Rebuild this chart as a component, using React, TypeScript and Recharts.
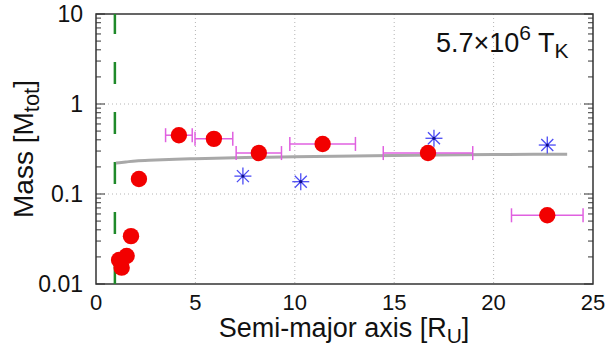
import React from 'react';
import {
  ComposedChart,
  Scatter,
  Line,
  XAxis,
  YAxis,
  CartesianGrid,
  ReferenceLine,
  ReferenceArea,
  ErrorBar,
} from 'recharts';

// Satellites formed in the disk (red dots), x range = orbit spread
const diskA = [4.17, 5.93, 8.19, 11.4, 16.7, 22.7, 2.16, 1.76, 1.54, 1.16, 1.29];
const diskMass = [0.45, 0.41, 0.285, 0.36, 0.285, 0.058, 0.147, 0.034, 0.0205, 0.0185, 0.0152];
const diskSpread = [0.67, 0.95, 1.14, 1.65, 2.25, 1.8, 0, 0, 0, 0, 0];

// Observed satellites (blue stars)
const obsA = [7.39, 10.3, 17.0, 22.7];
const obsMass = [0.158, 0.137, 0.416, 0.35];

// Gray model curve
const curveA = [1, 1.5, 2, 3, 4, 5, 7, 10, 13, 16, 20, 23.7];
const curveMass = [0.221, 0.227, 0.233, 0.238, 0.243, 0.247, 0.253, 0.26, 0.265, 0.27, 0.274, 0.277];

// Roche limit (green dashed)
const rocheA = 0.95;

const xTicks = [0, 5, 10, 15, 20, 25];
const yMajor = [0.01, 0.1, 1, 10];
const yMajorLabels = ['0.01', '0.1', '1', '10'];
const yMinor = [
  0.02, 0.03, 0.04, 0.05, 0.06, 0.07, 0.08, 0.09,
  0.2, 0.3, 0.4, 0.5, 0.6, 0.7, 0.8, 0.9,
  2, 3, 4, 5, 6, 7, 8, 9,
];

const FONT = "'Liberation Sans', Arial, Helvetica, sans-serif";
const PLOT_L = 96;
const PLOT_R = 593;
const FRAME = '#333';

const diskData = diskA.map((a, i) => ({ a, m: diskMass[i], err: diskSpread[i] }));
const obsData = obsA.map((a, i) => ({ a, m: obsMass[i] }));
const curveData = curveA.map((a, i) => ({ a, m: curveMass[i] }));

const MassTick = (props: any) => {
  const { y, payload } = props;
  const idx = yMajor.findIndex((v) => Math.abs(v - payload.value) < v * 1e-6);
  const len = idx >= 0 ? 9 : 5;
  return (
    <g>
      <line x1={PLOT_L} x2={PLOT_L + len} y1={y} y2={y} stroke={FRAME} strokeWidth={1} />
      <line x1={PLOT_R} x2={PLOT_R - len} y1={y} y2={y} stroke={FRAME} strokeWidth={1} />
      {idx >= 0 && (
        <text x={83} y={y + 8} textAnchor="end" fontSize={23} fill="#111" fontFamily={FONT}>
          {yMajorLabels[idx]}
        </text>
      )}
    </g>
  );
};

const RedDot = (p: any) => <circle cx={p.cx} cy={p.cy} r={8.2} fill="#f20000" />;

const BlueStar = (p: any) => {
  const { cx, cy } = p;
  const r = 8.5;
  const d = r * 0.707;
  return (
    <g stroke="#4b4bf5" strokeWidth={1.3}>
      <line x1={cx - r} y1={cy} x2={cx + r} y2={cy} />
      <line x1={cx} y1={cy - r} x2={cx} y2={cy + r} />
      <line x1={cx - d} y1={cy - d} x2={cx + d} y2={cy + d} />
      <line x1={cx - d} y1={cy + d} x2={cx + d} y2={cy - d} />
      <circle cx={cx} cy={cy} r={1.6} fill="#10108a" stroke="none" />
    </g>
  );
};

export default function App() {
  return (
    <div style={{ position: 'absolute', left: 0, top: 0, width: 613, height: 350, background: '#fff' }}>
      <ComposedChart width={613} height={350} margin={{ top: 14, right: 20, bottom: 0, left: 0 }}>
        <CartesianGrid
          horizontalValues={[0.1, 1]}
          verticalValues={[5, 10, 15, 20]}
          stroke="#b4b4b4"
          strokeDasharray="1 3"
        />
        <XAxis
          type="number"
          dataKey="a"
          domain={[0, 25]}
          ticks={xTicks}
          interval={0}
          allowDataOverflow
          height={66}
          tickLine={false}
          axisLine={false}
          tickSize={0}
          tickMargin={10}
          tick={{ fontSize: 22, fill: '#111', fontFamily: FONT }}
          label={{
            content: () => (
              <text x={344} y={337} textAnchor="middle" fontSize={27} fill="#111" fontFamily={FONT}>
                Semi-major axis [R
                <tspan dy={6} fontSize={21}>U</tspan>
                <tspan dy={-6}>]</tspan>
              </text>
            ),
          }}
        />
        <YAxis
          type="number"
          dataKey="m"
          scale="log"
          domain={[0.01, 10]}
          ticks={[...yMajor, ...yMinor]}
          interval={0}
          allowDataOverflow
          width={96}
          tickLine={false}
          axisLine={false}
          tick={<MassTick />}
          label={{
            content: () => (
              <text
                x={33}
                y={149}
                transform="rotate(-90, 33, 149)"
                textAnchor="middle"
                fontSize={28}
                fill="#111"
                fontFamily={FONT}
              >
                Mass [M
                <tspan dy={6} fontSize={22}>tot</tspan>
                <tspan dy={-6}>]</tspan>
              </text>
            ),
          }}
        />
        <ReferenceLine
          x={rocheA}
          stroke="#1f8a2a"
          strokeWidth={2.5}
          strokeDasharray="22 28"
        />
        <Line
          data={curveData}
          dataKey="m"
          type="monotone"
          stroke="#a8a8a8"
          strokeWidth={3}
          dot={false}
          isAnimationActive={false}
        />
        <Scatter data={diskData} dataKey="m" shape={RedDot} isAnimationActive={false}>
          <ErrorBar dataKey="err" direction="x" width={7} stroke="#e060e0" strokeWidth={1.5} />
        </Scatter>
        <Scatter data={obsData} dataKey="m" shape={BlueStar} isAnimationActive={false} />
        <ReferenceArea
          x1={0}
          x2={25}
          y1={0.01}
          y2={10}
          fill="none"
          fillOpacity={0}
          stroke={FRAME}
          strokeWidth={1.5}
          label={{
            content: () => (
              <text x={436} y={52} fontSize={27} fill="#111" fontFamily={FONT}>
                5.7×10
                <tspan dy={-12} fontSize={21}>6</tspan>
                <tspan dy={12}> T</tspan>
                <tspan dy={6} fontSize={21}>K</tspan>
              </text>
            ),
          }}
        />
      </ComposedChart>
    </div>
  );
}
